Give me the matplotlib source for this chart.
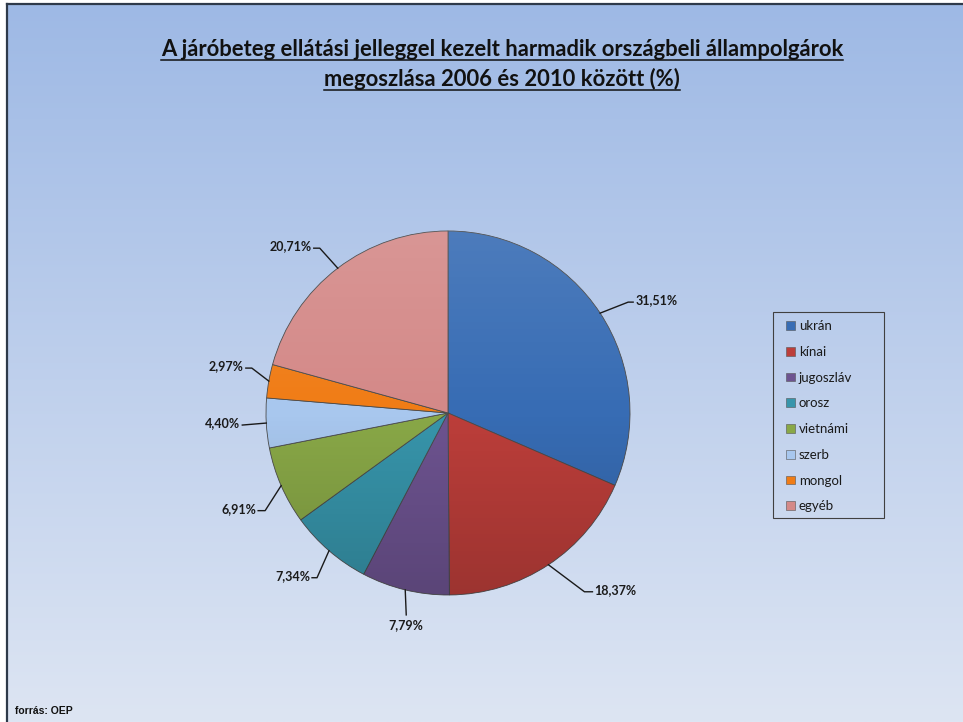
import numpy as np
import matplotlib.pyplot as plt
from matplotlib.patches import Circle, Patch, Rectangle

# country shares, 2006-2010 (%)
countries = ['ukrán', 'kínai', 'jugoszláv', 'orosz', 'vietnámi', 'szerb', 'mongol', 'egyéb']
shares = [31.51, 18.37, 7.79, 7.34, 6.91, 4.40, 2.97, 20.71]
colors = ['#376CB4', '#BC3E3A', '#6D5390', '#3795AB', '#89A847', '#A8C7EE', '#F07C16', '#D48988']

W, H = 963, 722
fig = plt.figure(figsize=(W / 100, H / 100), dpi=100)
fig.patch.set_facecolor('white')

# pixel-space axes, y going up
ax = fig.add_axes([0, 0, 1, 1])
ax.set_xlim(0, W)
ax.set_ylim(0, H)
ax.set_aspect('equal')
ax.axis('off')

# background gradient inside the frame
top = np.array([158, 185, 229]) / 255
bottom = np.array([221, 229, 243]) / 255
t = np.linspace(0, 1, 256)[:, None]
grad = bottom + (top - bottom) * t
ax.imshow(grad[:, None, :].repeat(2, axis=1), extent=(7, W, 0, H - 4),
          origin='lower', aspect='auto', zorder=0)
ax.plot([7, 7], [0, H - 4], color='#2E3A4A', lw=1.6, zorder=1)
ax.plot([7, W], [H - 4, H - 4], color='#2E3A4A', lw=1.6, zorder=1)

# pie
cx, cy, r = 448, H - 413, 182
wedges, _ = ax.pie(shares, colors=colors, startangle=90, counterclock=False,
                   center=(cx, cy), radius=r, frame=True,
                   wedgeprops=dict(edgecolor='#4A4A4A', linewidth=0.6))
ax.set_xlim(0, W)
ax.set_ylim(0, H)
ax.axis('off')

# soft shading over the pie: lighter at top, darker at bottom
shade = np.zeros((256, 2, 4))
a = np.linspace(0, 1, 256)
shade[:, :, :3] = np.where(a[:, None, None] > 0.5, 1.0, 0.0)
shade[:, :, 3] = (np.abs(a - 0.5) * np.where(a > 0.5, 0.22, 0.34))[:, None]
im = ax.imshow(shade, extent=(cx - r, cx + r, cy - r, cy + r), origin='lower',
               aspect='auto', zorder=3)
im.set_clip_path(Circle((cx, cy), r, transform=ax.transData))

# leader line elbows (dx, dy down) and horizontal tail per slice
elbows = [(28, -11, 5), (36, 27, 8), (1, 25, 0), (-12, 27, -5),
          (-16, 25, -7), (-24, 2, 0), (-17, -13, -6), (-18, -20, -6)]

for w, val, (dx, dy, tail) in zip(wedges, shares, elbows):
    ang = np.deg2rad((w.theta1 + w.theta2) / 2)
    ex, ey = cx + r * np.cos(ang), cy + r * np.sin(ang)
    bx, by = ex + dx, ey - dy
    tx = bx + tail
    ax.plot([ex, bx, tx], [ey, by, by], color='#1A1A1A', lw=1.0, zorder=4)
    lab = f'{val:.2f}%'.replace('.', ',')
    kw = dict(va='center', fontsize=9, fontweight='bold', family='Lato',
              color='#1A1A1A', zorder=5)
    if tail > 0:
        ax.text(tx + 2, by + 2, lab, ha='left', **kw)
    elif tail < 0 or dx < 0:
        ax.text(tx - 2, by + 2, lab, ha='right', **kw)
    else:
        ax.text(bx, by - 10, lab, ha='center', **kw)

# legend with its own frame box
ax.add_patch(Rectangle((773, H - 518), 111, 206, facecolor='none',
                       edgecolor='#404040', linewidth=0.8, zorder=9))
handles = [Patch(facecolor=c, edgecolor='#555555', linewidth=0.4) for c in colors]
leg = fig.legend(handles, countries, loc='upper left',
                 bbox_to_anchor=(781 / W, 1 - 315 / H), frameon=False,
                 prop=dict(family='Lato', size=9.5),
                 handlelength=0.65, handleheight=0.65, handletextpad=0.3,
                 labelspacing=1.04, borderpad=0.4, borderaxespad=0)
leg.set_zorder(10)
for txt in leg.get_texts():
    txt.set_color('#1A1A1A')

# title, underlined
title_lines = ['A járóbeteg ellátási jelleggel kezelt harmadik országbeli állampolgárok',
               'megoszlása 2006 és 2010 között (%)']
title_y = [H - 49, H - 79]
fig.canvas.draw()
renderer = fig.canvas.get_renderer()
for line, y in zip(title_lines, title_y):
    tt = ax.text(502, y, line, ha='center', va='center', fontsize=15.8,
                 fontweight='bold', family='Lato', color='#111111')
    bb = tt.get_window_extent(renderer)
    ax.plot([bb.x0, bb.x1], [y - 11, y - 11], color='#111111', lw=1.1)

ax.text(15, H - 711, 'forrás: OEP', ha='left', va='center', fontsize=7.5,
        fontweight='bold', family='Liberation Sans', color='#111111')

fig.savefig('out.png', dpi=100)
